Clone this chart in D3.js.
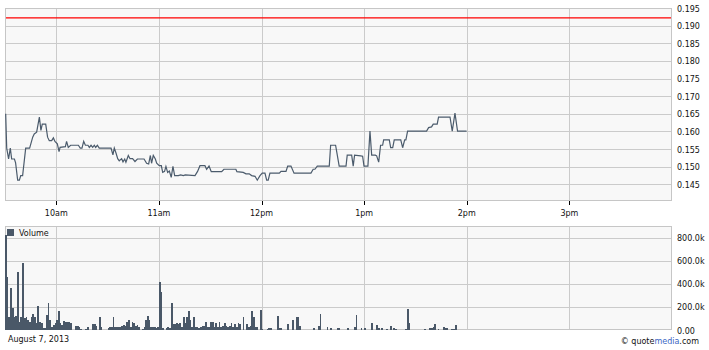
<!DOCTYPE html>
<html><head><meta charset="utf-8">
<script src="https://cdn.jsdelivr.net/npm/d3@7"></script>
<style>body{margin:0;background:#fff}svg{display:block}text{font-family:"DejaVu Sans",Verdana,sans-serif;font-size:8px;fill:#111}</style>
</head><body><svg id="c" width="709" height="350"></svg>
<script>
// ---- data ----
const hourTicks = [30, 90, 150, 210, 270, 330];           // minutes since 9:30
const hourLabels = ["10am", "11am", "12pm", "1pm", "2pm", "3pm"];
const priceTicks = [0.145, 0.150, 0.155, 0.160, 0.165, 0.170, 0.175, 0.180, 0.185, 0.190, 0.195];
const volumeTicks = [0, 200000, 400000, 600000, 800000];
const prevClose = 0.1922;
const dateLabel = "August 7, 2013";
const priceMinutes = [0.4,1.0,2.1,3.1,3.9,5.5,6.2,7.4,8.4,9.2,10.3,12.1,14.4,16.2,17.1,18.5,20.1,21.0,21.8,23.8,24.9,25.9,27.3,28.3,29.2,30.6,31.6,32.2,35.3,36.0,37.0,38.4,42.9,44.0,45.0,46.0,47.0,48.5,49.3,50.3,51.3,52.2,53.0,54.0,55.1,62.0,63.1,63.9,64.9,65.9,66.8,68.2,69.0,70.0,70.7,72.1,73.1,74.6,76.0,77.4,81.3,82.8,84.0,85.0,85.7,86.7,87.9,88.7,90.2,91.4,92.2,93.3,94.1,95.1,96.1,97.2,98.2,99.2,101.3,102.7,104.3,105.4,111.1,112.6,114.0,116.9,117.9,119.3,120.6,126.7,128.0,135.0,135.6,139.3,140.9,142.8,144.2,146.2,147.5,149.1,150.4,152.0,153.0,153.9,154.9,160.4,161.4,164.3,165.3,167.2,169.0,178.9,180.2,181.2,182.6,189.6,190.4,193.3,195.4,199.4,200.1,202.7,203.6,204.4,208.0,209.1,209.9,212.2,213.4,214.4,216.5,217.3,218.5,219.6,220.8,221.4,224.7,225.5,226.7,227.6,231.4,232.5,233.7,234.4,235.4,246.5,247.7,249.4,250.4,252.7,253.5,260.2,261.5,263.1,264.6,269.9];
const priceValues = [0.1650,0.1553,0.1522,0.1553,0.1522,0.1522,0.1511,0.1462,0.1462,0.1475,0.1475,0.1553,0.1553,0.1584,0.1593,0.1598,0.1641,0.1603,0.1621,0.1621,0.1584,0.1574,0.1574,0.1582,0.1572,0.1565,0.1543,0.1555,0.1557,0.1572,0.1555,0.1561,0.1561,0.1553,0.1553,0.1572,0.1561,0.1561,0.1555,0.1561,0.1555,0.1561,0.1555,0.1561,0.1553,0.1553,0.1534,0.1553,0.1539,0.1523,0.1517,0.1523,0.1514,0.1522,0.1513,0.1532,0.1523,0.1523,0.1515,0.1522,0.1522,0.1510,0.1508,0.1532,0.1510,0.1532,0.1522,0.1510,0.1503,0.1503,0.1484,0.1487,0.1501,0.1484,0.1488,0.1470,0.1501,0.1475,0.1475,0.1477,0.1475,0.1477,0.1475,0.1487,0.1503,0.1503,0.1493,0.1502,0.1486,0.1486,0.1493,0.1493,0.1486,0.1484,0.1480,0.1480,0.1475,0.1473,0.1462,0.1475,0.1482,0.1482,0.1462,0.1462,0.1482,0.1482,0.1487,0.1487,0.1502,0.1502,0.1482,0.1482,0.1493,0.1493,0.1502,0.1502,0.1561,0.1561,0.1502,0.1502,0.1533,0.1533,0.1502,0.1533,0.1531,0.1530,0.1502,0.1502,0.1601,0.1533,0.1533,0.1531,0.1513,0.1561,0.1561,0.1576,0.1576,0.1554,0.1554,0.1576,0.1576,0.1554,0.1576,0.1576,0.1601,0.1601,0.1611,0.1613,0.1621,0.1621,0.1641,0.1641,0.1601,0.1652,0.1601,0.1601];
// volume per minute since 9:30, in thousands
const volumeK = [826,458,116,363,194,116,125,499,72,116,577,100,116,87,72,116,136,116,58,209,72,58,15,15,130,237,87,23,44,58,87,168,58,44,81,73,73,73,64,0,0,35,35,23,9,0,0,9,23,0,0,49,49,35,0,110,29,0,0,0,20,29,29,113,29,23,23,23,35,43,35,72,87,29,72,58,35,43,29,0,12,23,87,122,87,23,23,29,15,23,412,333,15,0,15,29,15,237,52,52,58,52,58,23,110,58,116,168,87,23,116,23,23,15,23,35,35,72,29,23,72,72,23,58,29,72,23,35,58,35,23,35,58,29,52,23,58,52,0,113,0,52,23,35,165,113,23,23,0,174,9,0,0,9,15,15,0,0,0,122,15,15,0,0,0,52,0,0,87,0,113,113,35,0,0,0,0,0,0,0,15,0,0,35,139,0,0,0,23,0,15,0,0,0,15,15,0,0,0,0,15,0,0,0,23,130,0,0,15,0,15,0,0,0,58,0,0,43,15,0,15,0,0,9,0,35,0,15,9,0,0,0,0,0,9,183,61,0,0,0,0,0,0,0,0,9,0,0,15,15,23,52,0,9,0,0,23,15,15,0,0,9,9,43];

// ---- chart ----
const svg = d3.select("#c");
const L = 5, R = 672;
const x = d3.scaleLinear().domain([0, 390]).range([L, R]);
const yP = d3.scaleLinear().domain([0.1403, 0.195]).range([201, 8]);
const yV = d3.scaleLinear().domain([0, 900000]).range([330, 226]);
const grid = "#cbcbcb", panelBg = "#f8f8f8";
const snap = v => Math.round(v) + 0.5;

function panel(top, bottom) {
  svg.append("rect").attr("x", L).attr("y", top).attr("width", R - L).attr("height", bottom - top)
    .attr("fill", panelBg);
}
panel(8, 201);
panel(226, 330);

const g = svg.append("g").attr("shape-rendering", "crispEdges");
// price horizontal grid
g.selectAll(".hp").data(priceTicks.filter(t => t < 0.195)).join("line")
  .attr("x1", L).attr("x2", R).attr("y1", d => snap(yP(d))).attr("y2", d => snap(yP(d)))
  .attr("stroke", grid);
// volume horizontal grid
g.selectAll(".hv").data(volumeTicks.filter(t => t > 0)).join("line")
  .attr("x1", L).attr("x2", R).attr("y1", d => snap(yV(d))).attr("y2", d => snap(yV(d)))
  .attr("stroke", grid);
// vertical grid
hourTicks.forEach(m => {
  const xx = snap(x(m));
  g.append("line").attr("x1", xx).attr("x2", xx).attr("y1", 8).attr("y2", 201).attr("stroke", grid);
  g.append("line").attr("x1", xx).attr("x2", xx).attr("y1", 226).attr("y2", 330).attr("stroke", grid);
  g.append("line").attr("x1", xx).attr("x2", xx).attr("y1", 201).attr("y2", 205).attr("stroke", "#000");
});

// volume bars
const bars = svg.append("g").attr("shape-rendering", "crispEdges");
volumeK.forEach((v, i) => {
  if (!v) return;
  const x0 = Math.round(x(i)), x1 = Math.round(x(i + 1));
  const yy = yV(v * 1000);
  bars.append("rect").attr("x", x0).attr("width", Math.max(1, x1 - x0))
    .attr("y", yy).attr("height", 330 - yy).attr("fill", "#4a5868");
});

// frames
g.append("rect").attr("x", L + 0.5).attr("y", 8.5).attr("width", R - L - 1).attr("height", 192)
  .attr("fill", "none").attr("stroke", "#c6c6c6");
g.append("rect").attr("x", L + 0.5).attr("y", 226.5).attr("width", R - L - 1).attr("height", 103)
  .attr("fill", "none").attr("stroke", "#c6c6c6");

// previous close line
svg.append("line").attr("x1", L + 1).attr("x2", R - 1)
  .attr("y1", yP(prevClose)).attr("y2", yP(prevClose))
  .attr("stroke", "#ff0000").attr("stroke-width", 1.3);

// price line
const pts = priceMinutes.map((m, i) => [m, priceValues[i]]);
svg.append("path").datum(pts)
  .attr("d", d3.line().x(d => x(d[0])).y(d => yP(d[1])))
  .attr("fill", "none").attr("stroke", "#4b5b6c").attr("stroke-width", 1.2);

// labels
svg.selectAll(".tl").data(hourTicks).join("text")
  .attr("x", d => x(d)).attr("y", 216).attr("text-anchor", "middle")
  .text((d, i) => hourLabels[i]);
svg.selectAll(".pl").data(priceTicks).join("text")
  .attr("x", 677).attr("y", d => yP(d) + 3.5)
  .text(d => d.toFixed(3));
svg.selectAll(".vl").data(volumeTicks).join("text")
  .attr("x", 677).attr("y", d => yV(d) + 3.5)
  .text(d => d === 0 ? "0.00" : (d / 1000).toFixed(1) + "k");

// legend
svg.append("rect").attr("x", 7).attr("y", 229).attr("width", 7).attr("height", 7).attr("fill", "#4a5868");
svg.append("text").attr("x", 19).attr("y", 236).text("Volume");

// footer
svg.append("text").attr("x", 8).attr("y", 342).text(dateLabel);
const qm = svg.append("text").attr("x", 699).attr("y", 344).attr("text-anchor", "end");
qm.append("tspan").text("\u00A9 quote");
qm.append("tspan").attr("fill", "#3a66c4").style("fill", "#3a66c4").text("media");
qm.append("tspan").text(".com");
</script></body></html>
